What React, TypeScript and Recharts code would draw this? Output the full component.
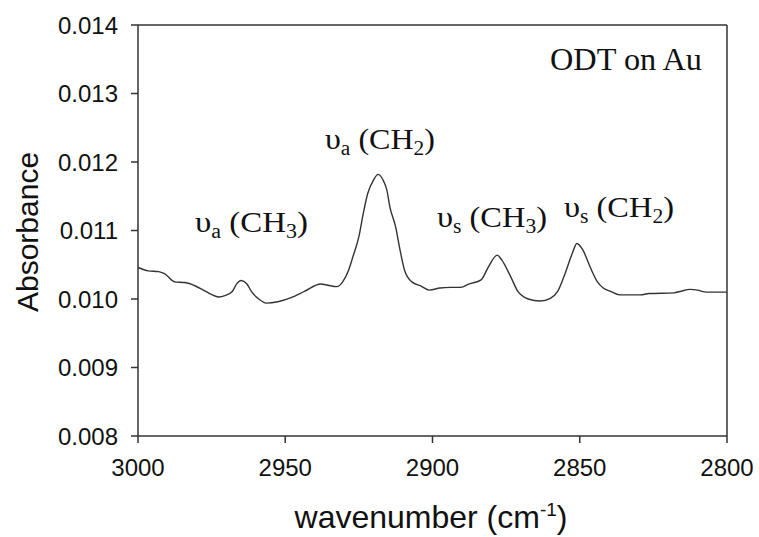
import { LineChart, Line, XAxis, YAxis, ReferenceLine, Customized } from "recharts";

const wavenumbers = [
  3000, 2996.5, 2993, 2991, 2987.5, 2984, 2980.5, 2977, 2972.5, 2970.5, 2968,
  2966.5, 2965, 2963, 2961.5, 2959, 2956.5, 2952.5, 2948, 2943.5, 2938, 2935.5,
  2932.5, 2930.5, 2928.5, 2927, 2925, 2923.5, 2922, 2920, 2918.5, 2916.5, 2915.5,
  2914.5, 2912.5, 2911, 2909.5, 2907, 2904, 2901, 2897.5, 2894, 2890.5, 2887.5,
  2883.5, 2881, 2878, 2876.5, 2873.5, 2871, 2867.5, 2863.5, 2860, 2857.5, 2855,
  2852.5, 2851, 2849, 2846.5, 2844, 2842, 2839.5, 2836.5, 2829.5, 2826.5, 2818,
  2816, 2812.5, 2810, 2807, 2800,
];

const absorbance = [
  0.01046, 0.01041, 0.0104, 0.01037, 0.01025, 0.01024, 0.01019, 0.01011, 0.01003,
  0.01005, 0.01011, 0.01022, 0.01027, 0.01022, 0.01011, 0.01, 0.00994, 0.00996,
  0.01002, 0.01011, 0.01022, 0.0102, 0.01018, 0.01025, 0.01042, 0.01062, 0.01091,
  0.01125, 0.01154, 0.01174, 0.01182, 0.01171, 0.01159, 0.01135, 0.01105, 0.01071,
  0.01042, 0.01025, 0.01019, 0.01013, 0.01016, 0.01017, 0.01017, 0.01022, 0.01028,
  0.01047, 0.01064, 0.01057, 0.01033, 0.01011, 0.01, 0.00997, 0.01001, 0.01011,
  0.01037, 0.01067, 0.01081, 0.01072, 0.01047, 0.01025, 0.01016, 0.01011, 0.01006,
  0.01006, 0.01008, 0.01009, 0.01011, 0.01014, 0.01013, 0.0101, 0.0101,
];

const xTicks = [3000, 2950, 2900, 2850, 2800];
const yTicks = [0.008, 0.009, 0.01, 0.011, 0.012, 0.013, 0.014];

// peak annotations: vibration mode subscript + CHn group
const peakLabels = [
  { mode: "a", group: "3", x: 195, y: 232, w: 113 },
  { mode: "a", group: "2", x: 325, y: 149, w: 110 },
  { mode: "s", group: "3", x: 437, y: 227, w: 110 },
  { mode: "s", group: "2", x: 564, y: 217, w: 110 },
];

const data = wavenumbers.map((w, i) => ({ w, a: absorbance[i] }));

const sans = "'Liberation Sans', Arial, sans-serif";
const serif = "'Liberation Serif', 'Times New Roman', serif";
const axisColor = "#333";

function Annotations() {
  return (
    <g>
      <text
        x={27}
        y={232}
        transform="rotate(-90 27 232)"
        textAnchor="middle"
        dominantBaseline="central"
        fontFamily={sans}
        fontSize={30}
        fill="#111"
      >
        Absorbance
      </text>
      <text x={431} y={528} textAnchor="middle" fontFamily={sans} fontSize={32} fill="#111">
        wavenumber (cm
        <tspan dy={-12} fontSize={19}>-1</tspan>
        <tspan dy={12}>)</tspan>
      </text>
      <text x={550} y={70} fontFamily={serif} fontSize={31} fill="#111" textLength={152} lengthAdjust="spacingAndGlyphs">
        ODT on Au
      </text>
      {peakLabels.map((p, i) => (
        <text
          key={i}
          x={p.x}
          y={p.y}
          fontFamily={serif}
          fontSize={30}
          fill="#111"
          textLength={p.w}
          lengthAdjust="spacingAndGlyphs"
        >
          υ
          <tspan dy={6} fontSize={20}>{p.mode}</tspan>
          <tspan dy={-6}> (CH</tspan>
          <tspan dy={6} fontSize={20}>{p.group}</tspan>
          <tspan dy={-6}>)</tspan>
        </text>
      ))}
    </g>
  );
}

export default function App() {
  return (
    <div style={{ position: "absolute", left: 0, top: 0, width: 759, height: 537, background: "#fff" }}>
      <LineChart width={759} height={537} data={data} margin={{ top: 25, right: 32, left: 0, bottom: 0 }}>
        <XAxis
          dataKey="w"
          type="number"
          domain={[2800, 3000]}
          reversed
          ticks={xTicks}
          height={101}
          tickSize={7}
          tickMargin={16}
          stroke={axisColor}
          strokeWidth={1.5}
          tick={{ fill: "#111", fontSize: 24, fontFamily: sans }}
        />
        <YAxis
          type="number"
          domain={[0.008, 0.014]}
          ticks={yTicks}
          width={138}
          tickSize={7}
          tickMargin={13}
          stroke={axisColor}
          strokeWidth={1.5}
          tickFormatter={(v: number) => v.toFixed(3)}
          tick={{ fill: "#111", fontSize: 24, fontFamily: sans }}
        />
        <ReferenceLine y={0.014} stroke={axisColor} strokeWidth={1.5} />
        <ReferenceLine x={2800} stroke={axisColor} strokeWidth={1.5} />
        <Line
          type="monotone"
          dataKey="a"
          stroke="#333"
          strokeWidth={1.4}
          dot={false}
          isAnimationActive={false}
        />
        <Customized component={Annotations} />
      </LineChart>
    </div>
  );
}
